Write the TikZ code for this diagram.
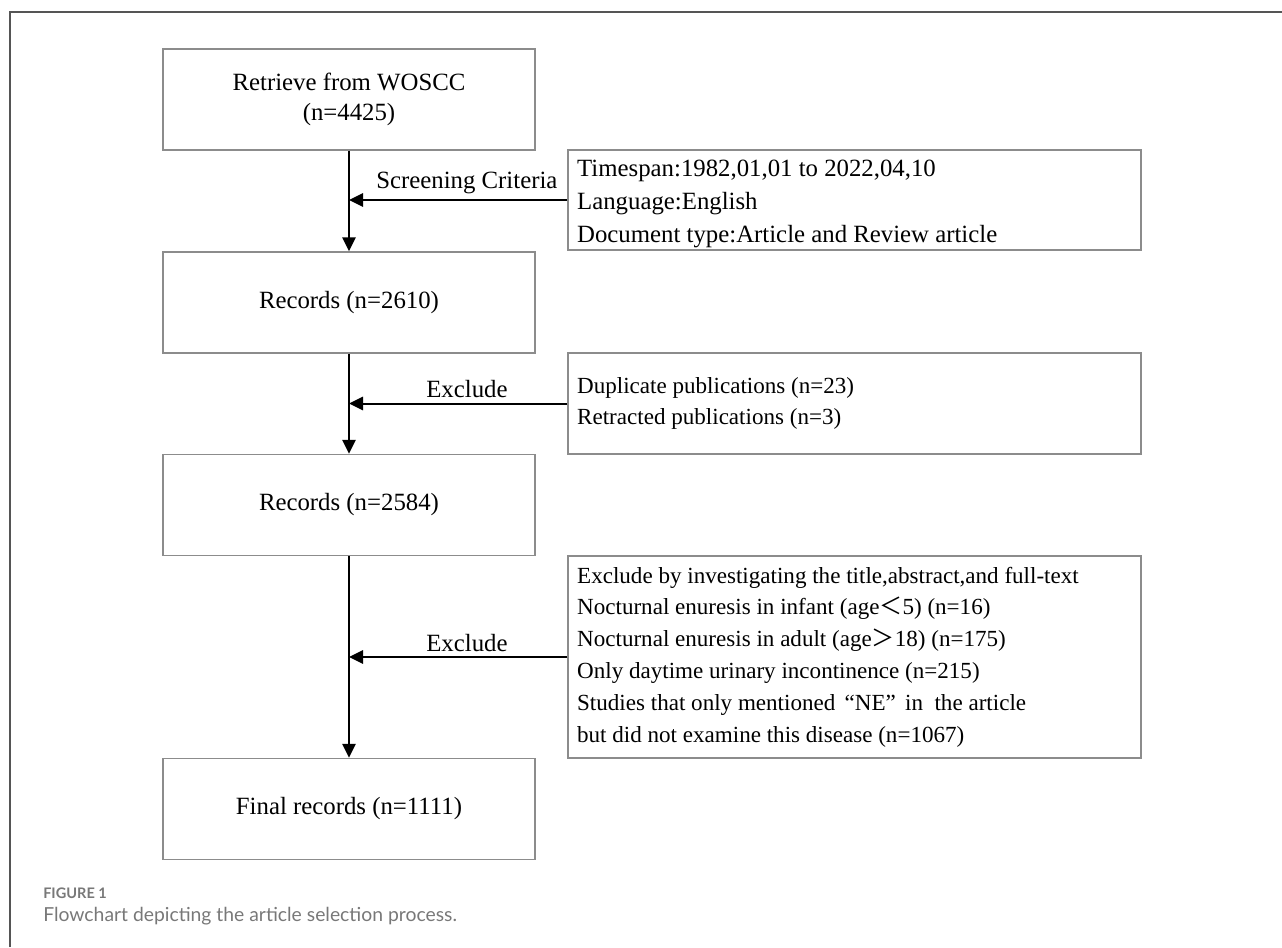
\documentclass[tikz,border=0pt]{standalone}
\usepackage{fontspec}
\setmainfont{Liberation Serif}
\newfontfamily\capfont{Lato}
\newfontfamily\cjk{Noto Sans CJK SC}
\usetikzlibrary{arrows.meta,positioning}
\definecolor{boxgray}{RGB}{140,140,140}
\definecolor{framegray}{RGB}{85,85,85}
\definecolor{capgray}{RGB}{120,120,120}

\begin{document}
\begin{tikzpicture}[x=0.75pt,y=-0.75pt,
  stage/.style={draw=boxgray, line width=1.1pt, minimum width=279pt, minimum height=75.75pt,
    inner sep=0pt, align=center, font=\fontsize{18.6}{22.5}\selectfont},
  panel/.style={draw=boxgray, line width=1.1pt, minimum width=429.75pt, inner sep=0pt},
  note/.style={draw=boxgray, line width=1.1pt, text width=416pt, inner xsep=6.75pt,
    inner ysep=0pt, align=flush left, font=\fontsize{17.3}{23.9}\selectfont},
  flow/.style={line width=1.5pt, -{Triangle[length=10.5pt,width=10pt]}},
  lbl/.style={font=\fontsize{18.6}{20}\selectfont, above, inner sep=3.5pt}]
\useasboundingbox (0,0) rectangle (1282,947);
% outer frame (open to the right and bottom)
\draw[framegray, line width=1.5pt] (10,947) -- (10,12) -- (1282,12);
% main column
\node[stage] (retrieve) at (349,99.5) {Retrieve from WOSCC\\(n=4425)};
\node[stage] (rec1) at (349,302.5) {Records (n=2610)};
\node[stage] (rec2) at (349,505) {Records (n=2584)};
\node[stage] (final) at (349,809) {Final records (n=1111)};
% side boxes
\node[panel, minimum height=75pt] (crit) at (854.5,200) {\raisebox{-3pt}[\height][\depth]{\parbox{416pt}{%
  \fontsize{18.6}{24.5}\selectfont\raggedright
  Timespan:1982,01,01 to 2022,04,10\\
  Language:English\\
  Document type:Article and Review article}}};
\node[note, minimum height=75.75pt] (dup) at (854.5,403.5) {Duplicate publications (n=23)\\
  Retracted publications (n=3)};
\node[note, minimum height=151.5pt] (excl) at (854.5,657) {Exclude by investigating the title,abstract,and full-text\\
  Nocturnal enuresis in infant (age{\cjk ＜}5) (n=16)\\
  Nocturnal enuresis in adult (age{\cjk ＞}18) (n=175)\\
  Only daytime urinary incontinence (n=215)\\
  Studies that only mentioned\hspace{0.4em}“NE”\hspace{0.4em}in\ \ the article\\
  but did not examine this disease (n=1067)};
% arrows
\draw[flow] (retrieve) -- (rec1);
\draw[flow] (rec1) -- (rec2);
\draw[flow] (rec2) -- (final);
\draw[flow] (crit.west) -- (crit.west -| retrieve.south) node[lbl, pos=0.46] {Screening Criteria};
\draw[flow] (dup.west) -- (dup.west -| rec1.south) node[lbl, pos=0.46] {Exclude};
\draw[flow] (excl.west) -- (excl.west -| rec2.south) node[lbl, pos=0.46] {Exclude};
% caption
\node[anchor=west, inner sep=0pt, text=capgray, font=\capfont\bfseries\fontsize{10.9}{12}\selectfont] (fig) at (43,893) {FIGURE 1};
\node[anchor=west, inner sep=0pt, text=capgray, font=\capfont\fontsize{14.5}{17}\selectfont] (cap) at (43,916) {Flowchart depicting the article selection process.};
\end{tikzpicture}
\end{document}
